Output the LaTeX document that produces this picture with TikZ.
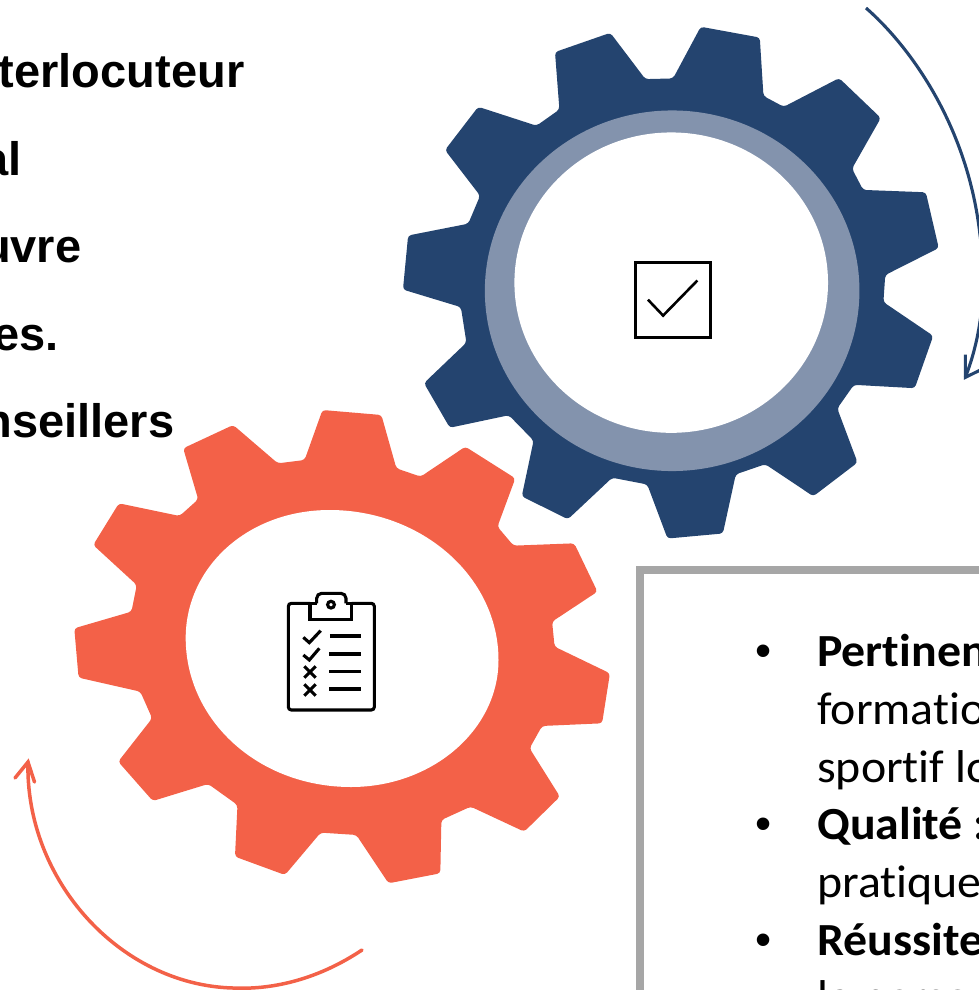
\documentclass[tikz,border=0pt]{standalone}
\usepackage{fontspec}
\setmainfont{Liberation Sans}
\newfontfamily\carlito[FakeStretch=1.04,Ligatures=NoCommon]{Carlito}
\definecolor{gearblue}{HTML}{24446F}
\definecolor{ringblue}{HTML}{8393AD}
\definecolor{gearred}{HTML}{F36148}
\definecolor{framegrey}{HTML}{A6A6A6}
\tikzset{
  headline/.style={anchor=base east,inner sep=0pt,font=\fontsize{47}{50}\selectfont\bfseries},
  bodyline/.style={anchor=base west,inner sep=0pt,font=\fontsize{46}{50}\selectfont\carlito},
  bulletdot/.style={anchor=base,inner sep=0pt,font=\fontsize{46}{50}\selectfont},
  gearshape/.style={rounded corners=3.2pt},
  icon/.style={draw=black,line width=3.1pt},
}
\begin{document}
\begin{tikzpicture}[x=1pt,y=-1pt]
\useasboundingbox (0,0) rectangle (979,990);
\begin{scope}
\clip (0,0) rectangle (979,990);
% left text
\node[headline] (t1) at (244.5,87) {terlocuteur};
\node[headline] (t2) at (21.5,175) {al};
\node[headline] (t3) at (81.5,262) {uvre};
\node[headline] (t4) at (59,350) {es.};
\node[headline] (t5) at (174.5,437) {nseillers};
% blue gear
\begin{scope}[xshift=400pt,yshift=-20pt,x=0.369pt,y=-0.3378pt]
\fill[gearblue,gearshape] (740,173) -- (815,20) -- (975,52) -- (985,225) -- (1040,257)
 -- (1190,172) -- (1303,290) -- (1225,440) -- (1255,503)
 -- (1425,510) -- (1460,675) -- (1315,755) -- (1310,835)
 -- (1445,935) -- (1395,1090) -- (1230,1080) -- (1185,1150)
 -- (1240,1310) -- (1120,1410) -- (990,1315) -- (910,1345)
 -- (875,1520) -- (725,1535) -- (670,1375) -- (575,1355)
 -- (455,1478) -- (330,1410) -- (362,1245) -- (295,1170)
 -- (135,1207) -- (65,1075) -- (180,955) -- (165,850)
 -- (8,798) -- (22,638) -- (185,603) -- (217,520)
 -- (122,385) -- (212,257) -- (370,313) -- (432,265)
 -- (420,95) -- (570,38) -- (665,175) -- cycle;
\fill[ringblue] (737.5,801.5) ellipse [x radius=187.3pt,y radius=180.3pt];
\fill[white] (735,777.5) ellipse [x radius=156.8pt,y radius=150.2pt];
\draw[black,line width=2.6pt] (638,717) rectangle (842,940);
\draw[black,line width=2.6pt] (672,828) -- (713,875) -- (806,771);
\end{scope}
% orange gear
\begin{scope}[xshift=60pt,yshift=-400pt,x=0.3571pt,y=-0.3333pt]
\fill[gearred,gearshape] (685,180) -- (735,30) -- (900,45) -- (942,205) -- (1010,230)
 -- (1135,140) -- (1275,235) -- (1225,380) -- (1270,437)
 -- (1440,430) -- (1505,575) -- (1378,665) -- (1385,740)
 -- (1540,820) -- (1518,970) -- (1350,978) -- (1315,1045)
 -- (1400,1190) -- (1300,1295) -- (1150,1220) -- (1068,1260)
 -- (1065,1420) -- (920,1450) -- (830,1305) -- (730,1298)
 -- (630,1425) -- (490,1370) -- (497,1215) -- (415,1152)
 -- (260,1203) -- (163,1085) -- (258,955) -- (225,875)
 -- (52,833) -- (40,685) -- (200,635) -- (215,555)
 -- (93,435) -- (165,310) -- (335,348) -- (387,298)
 -- (345,145) -- (485,75) -- (610,190) -- cycle;
\end{scope}
\fill[white] (329.6,510) .. controls (422,510) and (498.5,577) .. (498.5,660)
  .. controls (498.5,730) and (432,787) .. (351,787)
  .. controls (258,787) and (185.7,720) .. (185.7,638)
  .. controls (185.7,567) and (248,510) .. (329.6,510) -- cycle;
% clipboard icon
\begin{scope}[xshift=270pt,yshift=-580pt,x=0.3333pt,y=-0.3333pt]
\draw[icon,rounded corners=3pt] (120,70) -- (55,70) -- (55,390) -- (313,390) -- (313,70) -- (245,70);
\draw[icon,line join=miter] (120,70) -- (120,118) -- (245,118) -- (245,70);
\draw[icon,rounded corners=5pt] (140,70) -- (140,40) -- (228,40) -- (228,70);
\draw[icon] (120,70) -- (140,70) (228,70) -- (245,70);
\draw[icon] (183,74) circle [radius=3.4pt];
\draw[icon] (180,168) -- (272,168) (178,222) -- (272,222) (178,275) -- (272,275) (178,327) -- (272,327);
\draw[icon] (100,172) -- (118,188) -- (152,152);
\draw[icon] (100,225) -- (118,240) -- (148,205);
\draw[icon] (103,259) -- (137,293) (137,259) -- (103,293);
\draw[icon] (103,313) -- (137,347) (137,313) -- (103,347);
\end{scope}
% blue arrow
\coordinate (bluestart) at (866,8);
\coordinate (bluemid) at (980,235);
\coordinate (bluetip) at (965.3,377.4);
\coordinate (bluebarbl) at (965.3,354.5);
\coordinate (bluebarbr) at (985,367.7);
\draw[gearblue,line width=3.1pt] (bluestart) .. controls (905,42) and (967,120) .. (bluemid) .. controls (988,290) and (980,340) .. (bluetip);
\draw[gearblue,line width=3.1pt,line join=miter] (bluebarbl) -- (bluetip) -- (bluebarbr);
% orange arrow
\coordinate (redstart) at (362,950);
\coordinate (redmid) at (233,988);
\coordinate (redtip) at (28,762);
\coordinate (redbarbl) at (15,778);
\coordinate (redbarbr) at (34.5,782);
\draw[gearred,line width=3.5pt,line cap=round] (redstart) .. controls (320,978) and (275,990) .. (redmid) .. controls (120,985) and (25,880) .. (redtip);
\draw[gearred,line width=3.5pt,line cap=round,line join=miter] (redbarbl) -- (redtip) -- (redbarbr);
% text box
\draw[framegrey,line width=8pt] (639.5,1010) -- (639.5,569.5) -- (1000,569.5);
\node[bulletdot] (b1) at (764,666) {•};
\node[bulletdot] (b2) at (764,839.5) {•};
\node[bulletdot] (b3) at (764,955) {•};
\node[bodyline] (l1) at (817,666) {\bfseries Pertinen};
\node[bodyline] (l2) at (817,724) {formatio};
\node[bodyline] (l3) at (817,782) {sportif lo};
\node[bodyline] (l4) at (817,839.5) {\bfseries Qualité :};
\node[bodyline] (l5) at (817,897) {pratique};
\node[bodyline] (l6) at (817,955) {\bfseries Réussite};
\node[bodyline] (l7) at (817,1012) {la person};
\end{scope}
\end{tikzpicture}
\end{document}
